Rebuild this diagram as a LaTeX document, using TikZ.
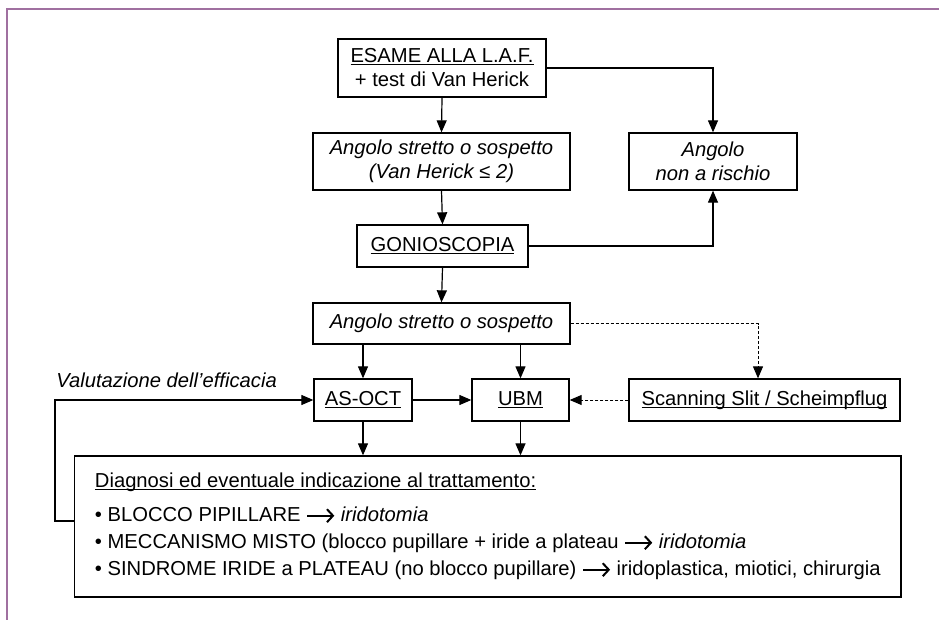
\documentclass[tikz,border=0pt]{standalone}
\usepackage{fontspec}
\setmainfont{Liberation Sans}
\usetikzlibrary{arrows.meta}
\definecolor{framepurple}{RGB}{160,112,160}
\newsavebox\ulbox
\newcommand\myul[1]{\sbox\ulbox{#1}\rlap{\rule[-2.3pt]{\wd\ulbox}{0.9pt}}\usebox\ulbox}
\newcommand\rarr{\tikz[baseline=-6pt]\draw[line width=2pt,-{Straight Barb[length=6pt,width=13pt,line width=2pt]}](0pt,0pt)--(27pt,0pt);}
\begin{document}
\begin{tikzpicture}[x=1pt,y=-1pt,
  every node/.style={font=\fontsize{20.2}{24}\selectfont},
  itf/.style={font=\fontsize{20.2}{24}\selectfont\itshape},
  box/.style={draw,line width=1.3pt,inner sep=0pt,align=center},
  arr/.style={line width=1.2pt,-{Triangle[length=12pt,width=10pt]}},
  dsh/.style={line width=1pt,dash pattern=on 3pt off 2pt,-{Triangle[length=12pt,width=10pt]}}]
\useasboundingbox (0,0) rectangle (939,620);
\draw[framepurple,line width=2pt] (939,9.5) -- (7,9.5) -- (7,620);

\node[box,minimum width=208pt,minimum height=58pt] (laf) at (442,68)
  {\myul{ESAME ALLA L.A.F.}\\+ test di Van Herick};
\node[box,itf,minimum width=257pt,minimum height=57pt] (ang1) at (441.5,161.5)
  {Angolo stretto o sospetto\\(Van Herick ≤ 2)};
\node[box,itf,minimum width=168pt,minimum height=57pt] (nr) at (713,161.5)
  {Angolo\\non a rischio};
\node[box,minimum width=171pt,minimum height=42pt] (gon) at (442.5,246) {\myul{GONIOSCOPIA}};
\node[box,itf,minimum width=257pt,minimum height=41pt] (ang2) at (441.5,323.5)
  {Angolo stretto o sospetto};
\node[box,minimum width=98pt,minimum height=42pt] (ao) at (363,400) {\myul{AS-OCT}};
\node[box,minimum width=97pt,minimum height=42pt] (ubm) at (520.5,400) {\myul{UBM}};
\node[box,minimum width=271pt,minimum height=42pt] (scan) at (764.5,400) {\myul{Scanning Slit / Scheimpflug}};
\node[itf,inner sep=0pt,anchor=east] (val) at (277,380)
  {Valutazione dell’efficacia};
\node[draw,line width=1.3pt,inner sep=0pt,minimum width=826.5pt,minimum height=141pt,align=left,
  font=\fontsize{20.2}{27}\selectfont] (big) at (487.75,526.5)
  {\myul{Diagnosi ed eventuale indicazione al trattamento:}\\[7pt]
   • BLOCCO PIPILLARE \rarr\ \textit{iridotomia}\\
   • MECCANISMO MISTO (blocco pupillare + iride a plateau \rarr\ \textit{iridotomia}\\
   • SINDROME IRIDE a PLATEAU (no blocco pupillare) \rarr\ iridoplastica, miotici, chirurgia};

\coordinate (fb) at (55,521);

\draw[arr] (laf.south) -- (ang1.north);
\draw[arr] (laf.east) -| (nr.north);
\draw[arr] (ang1.south) -- (gon.north);
\draw[arr] (gon.east) -| (nr.south);
\draw[arr] (gon.south) -- (ang2.north);
\draw[dsh] (ang2.east) -| ([xshift=-6.5pt]scan.north);
\draw[arr] (ao.north |- ang2.south) -- (ao.north);
\draw[arr] (ubm.north |- ang2.south) -- (ubm.north);
\draw[arr] (ao.east) -- (ubm.west);
\draw[dsh] (scan.west) -- (ubm.east);
\draw[arr] (ao.south) -- (ao.south |- big.north);
\draw[arr] (ubm.south) -- (ubm.south |- big.north);
\draw[arr] (big.west |- fb) -- (fb) |- (ao.west);
\end{tikzpicture}
\end{document}
